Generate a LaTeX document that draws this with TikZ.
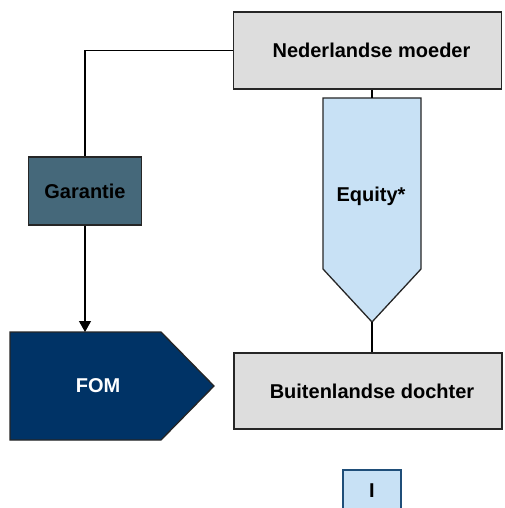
\documentclass[tikz,border=0pt]{standalone}
\usepackage{fontspec}
\setmainfont{Liberation Sans}
\usetikzlibrary{arrows.meta}
\definecolor{boxgray}{HTML}{DDDDDD}
\definecolor{garcol}{HTML}{45687A}
\definecolor{fomcol}{HTML}{003366}
\definecolor{eqcol}{HTML}{C8E1F5}
\definecolor{iborder}{HTML}{1F4E79}
\tikzset{
  graybox/.style={draw=black!85, line width=1.3pt, fill=boxgray, minimum width=268pt, minimum height=77pt, inner sep=0pt, font=\fontsize{20}{24}\selectfont\bfseries},
  garbox/.style={draw=black!85, line width=1.3pt, fill=garcol, minimum width=113pt, minimum height=68pt, inner sep=0pt, font=\fontsize{20}{24}\selectfont\bfseries},
  labeltext/.style={font=\fontsize{20}{24}\selectfont\bfseries, inner sep=0pt},
  shapeline/.style={draw=black!85, line width=1.3pt},
  conn/.style={draw=black, line width=1.2pt},
  ibox/.style={draw=iborder, line width=1.3pt, fill=eqcol, minimum width=58pt, minimum height=45pt, inner sep=0pt, font=\fontsize{20}{24}\selectfont\bfseries},
}
\begin{document}
\begin{tikzpicture}[x=1pt, y=-1pt]
\useasboundingbox (0,0) rectangle (504,508);
% top box
\node[graybox] (moeder) at (367.5,50.5) {\hspace{8pt}Nederlandse moeder};
% equity shape
\path[shapeline, fill=eqcol] (323,98) -- (421,98) -- (421,269) -- (372,322) -- (323,269) -- cycle;
\coordinate (eqtop) at (372,98);
\coordinate (eqtip) at (372,322);
\node[labeltext] (equity) at (371,196) {Equity*};
% bottom box
\node[graybox, minimum height=76pt] (dochter) at (368,391) {\hspace{8pt}Buitenlandse dochter};
% garantie
\node[garbox] (garantie) at (85,191) {Garantie};
% FOM shape
\path[shapeline, fill=fomcol] (10,332) -- (161,332) -- (214,386) -- (161,440) -- (10,440) -- cycle;
\coordinate (fomtop) at (85,332);
\node[labeltext, text=white] (fom) at (98,386) {FOM};
% small I box
\node[ibox] (ib) at (372,492.5) {\raisebox{3pt}{I}};
% connectors
\draw[conn] (moeder.south -| eqtop) -- (eqtop);
\draw[conn] (eqtip) -- (eqtip |- dochter.north);
\draw[conn] (moeder.west) -| (garantie.north);
\draw[conn, -{Triangle[length=11pt,width=12pt]}] (garantie.south) -- (fomtop);
\end{tikzpicture}
\end{document}
